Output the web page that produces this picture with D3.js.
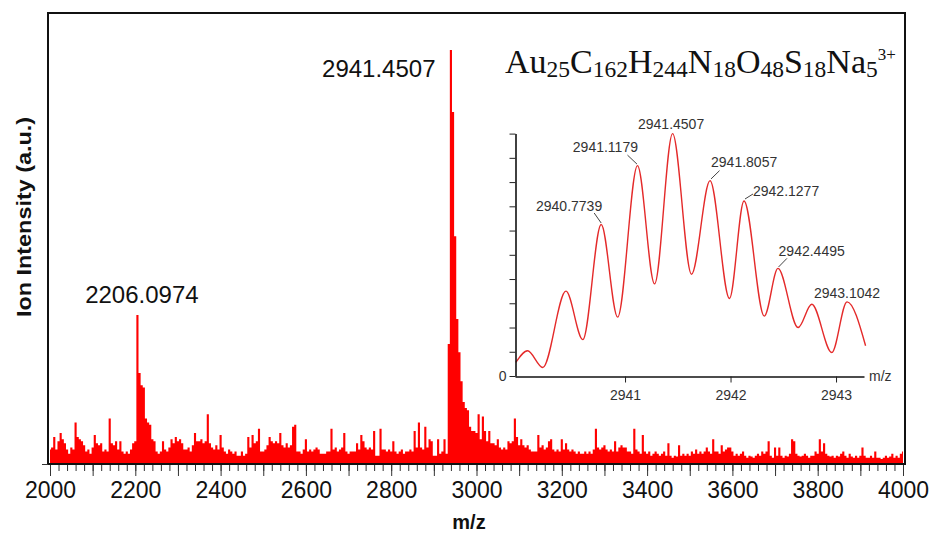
<!DOCTYPE html>
<html>
<head>
<meta charset="utf-8">
<script src="https://cdn.jsdelivr.net/npm/d3@7"></script>
<style>
  html, body { margin: 0; padding: 0; background: #fff; }
  svg { display: block; }
</style>
</head>
<body>
<div id="chart"></div>
<script>
// Mass spectrum (m/z 2000-4000) with isotope-pattern inset

// Main spectrum: intensity (% of base peak), one value every 5 m/z from 2000 to 4000
const mzStart = 2000;
const mzStep = 5;
const intensity = [
  3.5, 4, 6.5, 3.5, 5.5, 7.5, 6, 5, 3.5, 2.5, 4, 3.5, 10, 6.5, 6, 5.5, 4.5, 3, 3.5, 2.5,      // 2000
  4, 7, 5, 4.5, 5, 3, 3.5, 3, 11, 5, 4.5, 5.5, 3.5, 5.5, 3, 2.5, 3, 2.5, 3.5, 5,              // 2100
  5.5, 36, 22, 19, 18.5, 11, 10, 9.5, 6, 5.5, 3, 2.5, 3, 5.5, 3.5, 3, 4, 6, 5, 6.5,           // 2200
  5.5, 6, 5, 3.5, 3.5, 4, 3, 4.5, 7.5, 5.5, 5.5, 6, 5, 5.5, 12, 5, 4, 3.5, 4.5, 3.5,          // 2300
  7, 4, 3, 2.5, 3.5, 3, 2.5, 3, 2, 2, 3, 2, 2.5, 6.5, 4, 7, 5, 5.5, 8.5, 3,                   // 2400
  3, 3.5, 4.5, 6.5, 5.5, 5, 5.5, 5, 7.5, 4.5, 4, 5, 4, 4.5, 9, 9.5, 3, 3, 2.5, 3.5,           // 2500
  6, 3, 3.5, 3, 3.5, 4, 3.5, 2.5, 2.5, 2.5, 3, 3, 8.5, 3.5, 4, 3, 3.5, 4, 7.5, 3,             // 2600
  2.5, 3, 3, 3, 5, 3.5, 7, 5.5, 4, 3.5, 4, 3.5, 8, 2, 2, 8.5, 3.5, 3.5, 3, 3.5,               // 2700
  3, 5.5, 3, 2.5, 3, 3.5, 2.5, 3, 3, 3.5, 3, 8, 4, 10, 4, 3.5, 9, 4, 6, 5.5,                  // 2800
  2, 2, 6, 2.5, 3, 6, 2.5, 29, 100, 85, 55, 35, 27, 20, 15, 13.5, 13, 9, 8, 8,                // 2900
  7.5, 12, 6, 11.5, 8, 5.5, 8, 5, 5, 4.5, 6, 4, 3.5, 4, 3.5, 5.5, 5, 5.5, 11, 6.5,            // 3000
  4.5, 6, 4.5, 4, 4.5, 3.5, 3, 3, 3, 7, 4, 4.5, 3.5, 4, 5.5, 6, 3.5, 3, 3.5, 3,               // 3100
  6, 3.5, 5, 3.5, 3, 3.5, 3, 2.5, 3, 2.5, 2.5, 3, 2.5, 3, 2.5, 3.5, 8.5, 4, 3.5, 4,           // 3200
  4.5, 3.5, 3, 3.5, 3, 5.5, 3, 4, 4.5, 4, 4, 3, 3, 2.5, 8.5, 3.5, 3, 2.5, 7, 3,               // 3300
  2.5, 3, 2, 2.5, 3, 2.5, 2, 2.5, 3, 2, 5, 2, 1.5, 2, 1.8, 4.5, 2, 2.5, 2, 2.5,               // 3400
  2, 3, 2.5, 3.5, 2.5, 3, 2.5, 3, 4, 3, 2.5, 6, 3, 3, 2.5, 4.5, 3, 3.5, 4, 4,                 // 3500
  3, 2, 2.5, 2, 2.5, 3, 2, 1.5, 2, 1.8, 1.5, 2, 2.5, 2, 3, 2.5, 3, 5.5, 2, 1.5,               // 3600
  4, 2, 4, 2, 1.5, 2, 1.8, 2.5, 6, 5.5, 2.5, 2, 1.8, 2, 2.5, 2, 1.5, 2, 2, 3,                 // 3700
  2.5, 6, 3, 5, 2.5, 2, 1.8, 2, 1.5, 2, 1.8, 2.5, 3, 2, 1.5, 2.5, 1.8, 1.5, 2, 1.5,           // 3800
  2, 4, 2, 1.5, 1.5, 2, 1.5, 3, 1.5, 1.5, 1.2, 1.5, 2, 1.5, 1.8, 2.5, 1.5, 2, 1.5, 2.5,       // 3900
  3                                                                                          // 4000
];

const xTickLabels = [2000, 2200, 2400, 2600, 2800, 3000, 3200, 3400, 3600, 3800, 4000];

const peakLabels = [
  { mz: 2206.0974, value: 36, text: "2206.0974" },
  { mz: 2941.4507, value: 100, text: "2941.4507" }
];

// Inset: isotope envelope (maxima and minima of the profile)
const isoMz = [2939.965, 2940.076, 2940.22, 2940.44, 2940.60, 2940.7739, 2940.93, 2941.1179, 2941.28,
  2941.4507, 2941.63, 2941.8057, 2941.99, 2942.1277, 2942.32, 2942.4495, 2942.64, 2942.77, 2942.96,
  2943.1042, 2943.28];
const isoIntensity = [5.6, 10.4, 3.5, 35, 15, 62.5, 24.3, 86.8, 38, 100, 42, 80.6, 32, 72.2, 24.7, 44.4,
  20, 29.6, 9.7, 30.6, 12.5];
const isoLabelMz = [2940.7739, 2941.1179, 2941.4507, 2941.8057, 2942.1277, 2942.4495, 2943.1042];
const isoTicks = [2941, 2942, 2943];

const W = 936, H = 537;
const svg = d3.select("#chart").append("svg")
  .attr("width", W).attr("height", H)
  .style("font-family", "'Liberation Sans', Arial, sans-serif");

svg.append("rect").attr("width", W).attr("height", H).attr("fill", "#fff");

// main scales
const x = d3.scaleLinear().domain([2000, 4000]).range([50, 903]);
const y = d3.scaleLinear().domain([0, 100]).range([464, 50]);

const spectrum = intensity.map((v, i) => ({ mz: mzStart + i * mzStep, v }));

svg.append("clipPath").attr("id", "plotClip")
  .append("rect").attr("x", 49).attr("y", 14).attr("width", 855).attr("height", 450);

svg.append("path")
  .datum(spectrum)
  .attr("clip-path", "url(#plotClip)")
  .attr("fill", "#ff0000")
  .attr("d", d3.area()
    .x(d => x(d.mz))
    .y0(y(0))
    .y1(d => y(d.v))
    .curve(d3.curveStep));

// frame
svg.append("rect")
  .attr("x", 48).attr("y", 13).attr("width", 857).attr("height", 451)
  .attr("fill", "none").attr("stroke", "#111").attr("stroke-width", 2);

// x axis: minor ticks every 20, major every 100, labels every 200
const minorAxis = svg.append("g")
  .attr("transform", "translate(0,465)")
  .call(d3.axisBottom(x).tickValues(d3.range(2000, 4001, 20)).tickSize(6).tickFormat(""));
minorAxis.select(".domain").remove();

const majorAxis = svg.append("g")
  .attr("transform", "translate(0,465)")
  .call(d3.axisBottom(x).tickValues(d3.range(2000, 4001, 100)).tickSize(11)
    .tickFormat(d => xTickLabels.includes(d) ? d : ""));
majorAxis.select(".domain").remove();
majorAxis.selectAll("text")
  .attr("y", 33).attr("dy", null)
  .style("font-size", "23px").attr("fill", "#111");
svg.selectAll(".tick line").attr("stroke", "#333");

// y axis: only a small tick at the baseline
const yAxis = svg.append("g")
  .attr("transform", "translate(48,0)")
  .call(d3.axisLeft(y).tickValues([0]).tickSize(6).tickFormat(""));
yAxis.select(".domain").remove();
yAxis.selectAll("line").attr("stroke", "#333");

// axis titles
svg.append("text")
  .attr("transform", "translate(24,217) rotate(-90)")
  .attr("text-anchor", "middle").attr("dy", "0.35em")
  .attr("textLength", 200).attr("lengthAdjust", "spacingAndGlyphs")
  .style("font-size", "21px").style("font-weight", "bold").attr("fill", "#111")
  .text("Ion Intensity (a.u.)");

svg.append("text")
  .attr("x", 469).attr("y", 529)
  .attr("text-anchor", "middle")
  .style("font-size", "20px").style("font-weight", "bold").attr("fill", "#111")
  .text("m/z");

// peak labels
svg.append("text")
  .attr("x", x(peakLabels[0].mz) + 4).attr("y", y(peakLabels[0].value) - 12)
  .attr("text-anchor", "middle").style("font-size", "24px").attr("fill", "#111")
  .text(peakLabels[0].text);
svg.append("text")
  .attr("x", x(peakLabels[1].mz) - 16).attr("y", y(peakLabels[1].value) + 27)
  .attr("text-anchor", "end").style("font-size", "24px").attr("fill", "#111")
  .text(peakLabels[1].text);

// formula
const formula = svg.append("text")
  .attr("x", 505).attr("y", 73)
  .style("font-family", "'Liberation Serif', 'Times New Roman', serif")
  .attr("fill", "#111");
const parts = [["Au", "25"], ["C", "162"], ["H", "244"], ["N", "18"], ["O", "48"], ["S", "18"], ["Na", "5"]];
parts.forEach(([el, n]) => {
  formula.append("tspan").attr("y", 73).style("font-size", "34px").text(el);
  formula.append("tspan").attr("y", 77).style("font-size", "23.5px").text(n);
});
formula.append("tspan").attr("y", 60).style("font-size", "17px").text("3+");

// ----- inset -----
const xi = d3.scaleLinear().domain([2939.957, 2943.265]).range([515, 864]);
const yi = d3.scaleLinear().domain([0, 100]).range([376, 133.6]);
const iso = isoMz.map((m, i) => ({ mz: m, v: isoIntensity[i] }));

svg.append("path")
  .datum(iso)
  .attr("fill", "none").attr("stroke", "#e42a2a").attr("stroke-width", 1.4)
  .attr("d", d3.line().x(d => xi(d.mz)).y(d => yi(d.v)).curve(d3.curveMonotoneX));

const iy = svg.append("g")
  .attr("transform", "translate(515.5,0)")
  .call(d3.axisLeft(yi).tickValues(d3.range(0, 101, 10)).tickSize(6).tickSizeOuter(0)
    .tickFormat(d => d === 0 ? "0" : ""));
const ix = svg.append("g")
  .attr("transform", "translate(0,376.5)")
  .call(d3.axisBottom(xi).tickValues(isoTicks).tickSize(6).tickSizeOuter(0).tickFormat(d3.format("d")));
[iy, ix].forEach(g => {
  g.select(".domain").attr("stroke", "#111").attr("stroke-width", 1.6);
  g.selectAll("line").attr("stroke", "#222");
  g.selectAll("text").style("font-size", "14px").attr("fill", "#333");
});
ix.selectAll("text").attr("y", 23).attr("dy", null);

svg.append("text")
  .attr("x", 869).attr("y", 381)
  .style("font-size", "14px").attr("fill", "#333")
  .text("m/z");

// inset peak annotations: text offset and leader line relative to the peak point
const isoLabelLayout = [
  { anchor: "end", dx: 1, dy: -13.5, line: [-7, -11.5, 0, -1.5] },
  { anchor: "end", dx: 0.5, dy: -13.5, line: [-10, -10.5, -0.5, -1.5] },
  { anchor: "middle", dx: -1.5, dy: -5, line: null },
  { anchor: "start", dx: 1, dy: -13.7, line: [9.5, -10, 1, -1.7] },
  { anchor: "start", dx: 9, dy: -5, line: [9, -7, 1, -2] },
  { anchor: "start", dx: 0.6, dy: -12, line: [9, -10, 0.6, -1.4] },
  { anchor: "middle", dx: 0, dy: -4, line: null }
];
isoLabelMz.forEach((m, i) => {
  const px = xi(m), py = yi(isoIntensity[isoMz.indexOf(m)]);
  const lay = isoLabelLayout[i];
  svg.append("text")
    .attr("x", px + lay.dx).attr("y", py + lay.dy)
    .attr("text-anchor", lay.anchor)
    .style("font-size", "14px").attr("fill", "#333")
    .text(m.toFixed(4));
  if (lay.line) {
    svg.append("line")
      .attr("x1", px + lay.line[0]).attr("y1", py + lay.line[1])
      .attr("x2", px + lay.line[2]).attr("y2", py + lay.line[3])
      .attr("stroke", "#444").attr("stroke-width", 1);
  }
});
</script>
</body>
</html>
